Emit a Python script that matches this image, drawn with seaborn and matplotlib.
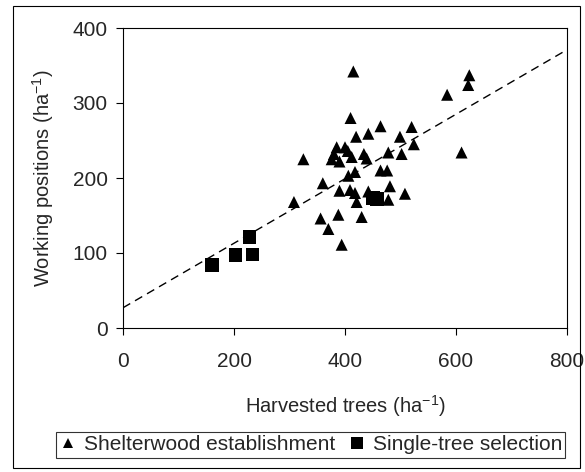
import matplotlib
matplotlib.use("Agg")
import matplotlib.pyplot as plt
import numpy as np
import pandas as pd
import seaborn as sns
from matplotlib.patches import Rectangle

# Shelterwood establishment (harvested trees, working positions)
shelter_x = [415, 624, 622, 584, 410, 464, 520, 442, 420, 499, 524, 610,
             325, 385, 400, 376, 390, 412, 434, 439, 478, 502, 418, 406,
             464, 476, 360, 390, 409, 418, 442, 481, 508, 421, 478, 356,
             388, 370, 430, 394, 308, 380, 405]
shelter_y = [342, 337, 324, 311, 280, 269, 268, 259, 255, 255, 245, 234,
             225, 241, 241, 225, 222, 228, 232, 226, 234, 232, 208, 203,
             210, 210, 193, 183, 184, 180, 182, 189, 179, 168, 171, 146,
             151, 132, 148, 111, 168, 232, 236]

# Single-tree selection
single_x = [160, 203, 228, 233, 450, 458]
single_y = [84, 97, 121, 98, 173, 172]

labels = ["Shelterwood establishment", "Single-tree selection"]

# dashed regression line
fit_intercept = 27
fit_slope = 0.43
line_x = [0, 800]

df = pd.DataFrame({
    "x": shelter_x + single_x,
    "y": shelter_y + single_y,
    "method": [labels[0]] * len(shelter_x) + [labels[1]] * len(single_x),
})

sns.set_style("white")
plt.rcParams["font.family"] = ["Liberation Sans", "DejaVu Sans"]

fig = plt.figure(figsize=(5.85, 4.72), dpi=100)
ax = fig.add_axes([123 / 585, 1 - 328 / 472, 444 / 585, 300 / 472])

line_y = [fit_intercept + fit_slope * v for v in line_x]
ax.plot(line_x, line_y, color="black", linestyle=(0, (6, 4)), linewidth=1.0, zorder=1)

sns.scatterplot(
    data=df, x="x", y="y", style="method", hue="method",
    markers={labels[0]: "^", labels[1]: "s"},
    palette={labels[0]: "black", labels[1]: "black"},
    size="method", sizes={labels[0]: 75, labels[1]: 95},
    linewidth=0, edgecolor="black", ax=ax, zorder=3,
)

ax.set_xlim(0, 800)
ax.set_ylim(0, 400)
ax.set_xticks([0, 200, 400, 600, 800])
ax.set_yticks([0, 100, 200, 300, 400])
ax.tick_params(axis="both", labelsize=15, length=5, width=0.8,
               direction="out", color="black", bottom=True, left=True)
ax.tick_params(axis="x", pad=12)
ax.tick_params(axis="y", pad=6)
for sp in ax.spines.values():
    sp.set_color("black")
    sp.set_linewidth(0.8)

ax.set_xlabel("Harvested trees (ha$^{\\mathregular{-1}}$)", fontsize=14.5, labelpad=16)
ax.set_ylabel("Working positions (ha$^{\\mathregular{-1}}$)", fontsize=14.5, labelpad=12)

handles, labs = ax.get_legend_handles_labels()
ax.legend_.remove()
keep = [(h, l) for h, l in zip(handles, labs) if l in labels]
fig.legend(
    [h for h, _ in keep], [l for _, l in keep],
    loc="center", bbox_to_anchor=(310.5 / 585, 1 - 445 / 472),
    ncol=2, frameon=True, fancybox=False, edgecolor="black",
    fontsize=15, handletextpad=0.3, columnspacing=0.6, handlelength=0.9,
    borderpad=0.15, borderaxespad=0, markerscale=0.85,
).get_frame().set_linewidth(0.8)

fig.patches.append(Rectangle((13 / 585, 4 / 472), 567 / 585, 462 / 472,
                             transform=fig.transFigure, fill=False,
                             edgecolor="black", linewidth=0.8))

fig.savefig("out.png", dpi=100)
